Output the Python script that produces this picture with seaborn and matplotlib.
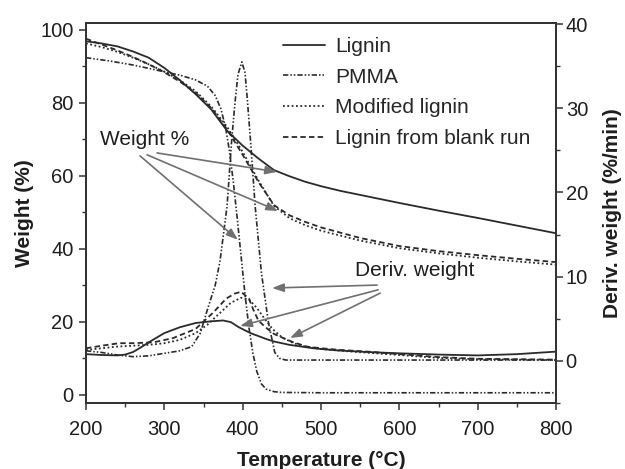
import matplotlib
matplotlib.use("Agg")
import matplotlib.pyplot as plt
from matplotlib.ticker import MultipleLocator
import seaborn as sns
import pandas as pd

# ---------------- data ----------------
series_names = ["Lignin", "PMMA", "Modified lignin", "Lignin from blank run"]

# Weight % (left axis)
t_w_lignin = [200, 220, 240, 260, 280, 300, 320, 340, 360, 380, 400, 420, 440, 460, 480, 500, 525, 550, 600, 650, 700, 750, 800]
w_lignin = [96.9, 96.3, 95.5, 94.1, 92.4, 89.6, 86.2, 82.4, 78.2, 72.4, 68.3, 64.8, 61.6, 59.9, 58.4, 57.2, 55.9, 54.8, 52.6, 50.5, 48.5, 46.4, 44.3]

t_w_pmma = [200, 230, 260, 290, 320, 340, 355, 365, 372, 378, 383, 388, 393, 398, 403, 408, 413, 418, 424, 430, 440, 450, 500, 600, 700, 800]
w_pmma = [92.4, 91.5, 90.4, 89.0, 87.6, 86.3, 84.6, 82.0, 78.5, 73.5, 67.0, 58.5, 48.5, 38.0, 27.5, 18.5, 11.5, 6.5, 3.0, 1.6, 0.9, 0.7, 0.6, 0.6, 0.6, 0.6]

t_w_mod = [200, 220, 240, 260, 280, 300, 320, 340, 360, 380, 400, 420, 440, 460, 480, 500, 550, 600, 650, 700, 750, 800]
w_mod = [96.3, 95.3, 94.0, 92.4, 90.6, 88.6, 86.2, 83.2, 79.0, 73.5, 66.6, 58.8, 51.8, 48.4, 46.5, 45.0, 42.3, 40.2, 38.8, 37.6, 36.6, 35.7]

t_w_blank = [200, 220, 240, 260, 280, 300, 320, 340, 360, 380, 400, 420, 440, 460, 480, 500, 550, 600, 650, 700, 750, 800]
w_blank = [97.6, 96.0, 94.4, 92.6, 90.6, 88.4, 85.8, 82.8, 78.6, 72.8, 65.8, 58.4, 52.0, 49.2, 47.4, 45.9, 43.0, 40.8, 39.4, 38.3, 37.3, 36.4]

# Derivative weight %/min (right axis)
t_d_lignin = [200, 220, 240, 250, 260, 270, 280, 300, 320, 340, 360, 375, 385, 395, 410, 430, 440, 460, 490, 520, 560, 600, 650, 700, 750, 800]
d_lignin = [0.8, 0.7, 0.65, 0.75, 1.05, 1.6, 2.2, 3.3, 4.0, 4.5, 4.7, 4.8, 4.6, 4.0, 3.3, 2.6, 2.3, 1.9, 1.5, 1.25, 1.05, 0.9, 0.75, 0.65, 0.8, 1.1]

t_d_pmma = [200, 220, 240, 260, 280, 300, 320, 335, 346, 356, 365, 371, 380, 386, 390, 394, 399, 403, 406, 410, 416, 424, 433, 441, 447, 455, 500, 600, 700, 800]
d_pmma = [1.2, 1.0, 0.7, 0.5, 0.6, 0.9, 1.2, 1.7, 3.3, 6.4, 9.0, 11.8, 18.3, 26.2, 30.5, 34.0, 35.5, 34.2, 31.0, 26.2, 18.3, 10.4, 4.5, 1.0, 0.3, 0.1, 0.1, 0.1, 0.1, 0.1]

t_d_mod = [200, 220, 240, 260, 280, 300, 320, 340, 355, 370, 385, 398, 408, 418, 428, 438, 450, 465, 480, 500, 540, 600, 650, 700, 750, 800]
d_mod = [1.3, 1.5, 1.7, 1.8, 1.9, 2.1, 2.5, 3.3, 4.3, 5.6, 6.9, 7.5, 7.3, 6.3, 5.0, 3.8, 2.8, 2.1, 1.7, 1.4, 1.1, 0.7, 0.35, 0.2, 0.15, 0.1]

t_d_blank = [200, 220, 242, 260, 286, 311, 340, 362, 379, 390, 398, 408, 414, 420, 429, 440, 452, 465, 482, 500, 524, 560, 600, 650, 700, 750, 800]
d_blank = [1.5, 1.8, 2.1, 2.1, 2.2, 2.7, 3.8, 5.7, 7.4, 8.0, 8.2, 7.4, 6.0, 4.8, 4.0, 3.2, 2.7, 2.2, 1.7, 1.5, 1.3, 1.1, 0.8, 0.45, 0.25, 0.2, 0.15]

x_ticks = [200, 300, 400, 500, 600, 700, 800]
left_ticks = [0, 20, 40, 60, 80, 100]
right_ticks = [0, 10, 20, 30, 40]

# ---------------- styling ----------------
sns.set_theme(style="ticks")
plt.rcParams['font.family'] = ['Liberation Sans', 'DejaVu Sans']

line_color = "#2a2a2a"
styles = {
    "Lignin": dict(linestyle="-", linewidth=1.3),
    "PMMA": dict(linestyle=(0, (3.2, 1.2, 0.9, 1.2, 0.9, 1.2)), linewidth=1.2),
    "Modified lignin": dict(linestyle=(0, (1.0, 1.4)), linewidth=1.3),
    "Lignin from blank run": dict(linestyle=(0, (3.0, 1.8)), linewidth=1.3),
}

weights = {
    "Lignin": (t_w_lignin, w_lignin),
    "PMMA": (t_w_pmma, w_pmma),
    "Modified lignin": (t_w_mod, w_mod),
    "Lignin from blank run": (t_w_blank, w_blank),
}
derivs = {
    "Lignin": (t_d_lignin, d_lignin),
    "PMMA": (t_d_pmma, d_pmma),
    "Modified lignin": (t_d_mod, d_mod),
    "Lignin from blank run": (t_d_blank, d_blank),
}

fig = plt.figure(figsize=(6.25, 4.69), dpi=100)
ax = fig.add_axes([86 / 625, 1 - 403 / 469, 470 / 625, 380 / 469])
ax2 = ax.twinx()

for name in series_names:
    t, w = weights[name]
    df = pd.DataFrame({"T": t, "W": w})
    sns.lineplot(data=df, x="T", y="W", ax=ax, color=line_color, legend=False, **styles[name])
for name in series_names:
    t, d = derivs[name]
    df = pd.DataFrame({"T": t, "D": d})
    sns.lineplot(data=df, x="T", y="D", ax=ax2, color=line_color, legend=False, **styles[name])

ax.set_xlim(200, 800)
ax.set_ylim(-2.2, 101.9)
ax2.set_ylim(-5.0, 40.12)

ax.set_xticks(x_ticks)
ax.set_yticks(left_ticks)
ax2.set_yticks(right_ticks)
ax.xaxis.set_minor_locator(MultipleLocator(50))
ax.yaxis.set_minor_locator(MultipleLocator(10))
ax2.yaxis.set_minor_locator(MultipleLocator(5))

tick_col = "#1e1e1e"
for a in (ax, ax2):
    a.tick_params(which="major", direction="out", length=5, width=1.1, colors="#333333",
                  labelsize=14.5, labelcolor=tick_col)
    a.tick_params(which="minor", direction="out", length=3, width=1.0, colors="#333333")
    for sp in a.spines.values():
        sp.set_linewidth(1.3)
        sp.set_color("#333333")
    a.grid(False)
ax.tick_params(axis="x", which="major", pad=7)
ax.tick_params(axis="y", which="major", pad=4)
ax2.tick_params(axis="y", which="major", pad=2)

ax.set_xlabel("Temperature (°C)", fontsize=15, fontweight="bold", color=tick_col)
ax.set_ylabel("Weight (%)", fontsize=15, fontweight="bold", color=tick_col)
ax2.set_ylabel("Deriv. weight (%/min)", fontsize=15, fontweight="bold", color=tick_col)
ax.xaxis.set_label_coords(0.5, -0.125)
ax.yaxis.set_label_coords(-0.111, 0.5)
ax2.yaxis.set_label_coords(1.100, 0.5)

# legend
handles = ax.get_lines()[:4]
ax2.legend(handles, series_names, loc="upper left",
           bbox_to_anchor=(283 / 625, 1 - 37 / 469), bbox_transform=fig.transFigure,
           frameon=False, fontsize=15, handlelength=2.0, handletextpad=0.5,
           labelspacing=0.56, borderpad=0, borderaxespad=0)

# annotations (left-axis data coordinates)
arrow_col = "#707070"
aprops = dict(arrowstyle="-|>,head_length=0.5,head_width=0.18", color=arrow_col, lw=1.2,
              shrinkA=0, shrinkB=0, mutation_scale=14)
ax2.text(275.4, 70.1, "Weight %", transform=ax.transData, fontsize=15, ha="center", va="center", color=tick_col)
weight_arrows = [((290.7, 66.3), (443.9, 61.1)),
                 ((277.9, 65.8), (445.2, 50.4)),
                 ((269.0, 65.5), (394.0, 42.5))]
for start, tip in weight_arrows:
    ax2.annotate("", xy=tip, xytext=start, xycoords=ax.transData, textcoords=ax.transData, arrowprops=aprops)

ax2.text(620.2, 34.0, "Deriv. weight", transform=ax.transData, fontsize=15, ha="center", va="center", color=tick_col)
deriv_arrows = [((571.6, 30.1), (437.5, 29.3)),
                ((572.9, 28.8), (396.7, 18.9)),
                ((575.5, 27.9), (460.5, 15.6))]
for start, tip in deriv_arrows:
    ax2.annotate("", xy=tip, xytext=start, xycoords=ax.transData, textcoords=ax.transData, arrowprops=aprops)

fig.savefig("out.png", dpi=100)
